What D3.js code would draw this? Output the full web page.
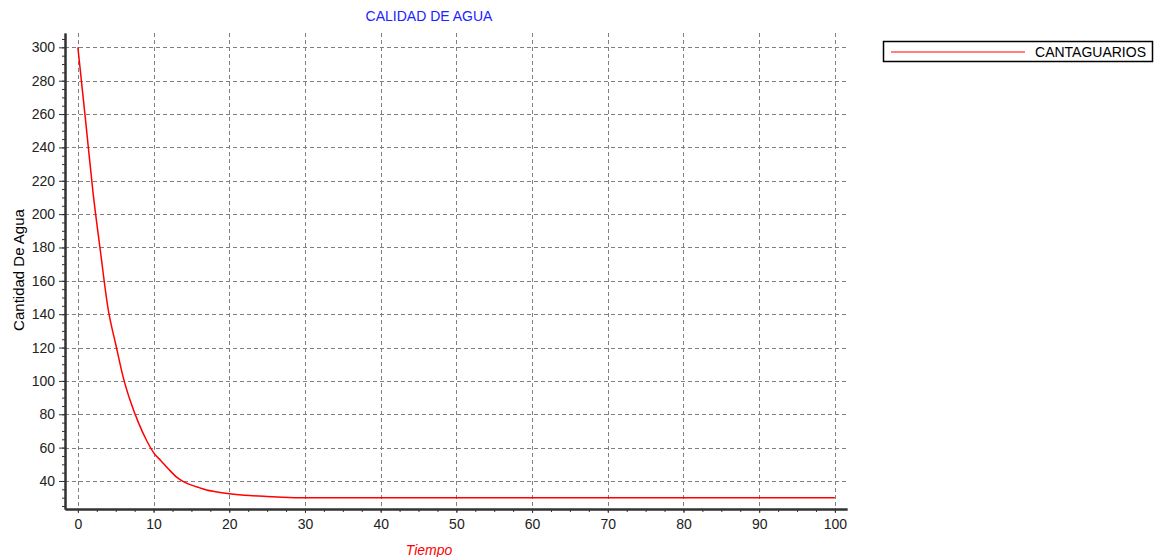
<!DOCTYPE html>
<html>
<head>
<meta charset="utf-8">
<script src="https://cdn.jsdelivr.net/npm/d3@7"></script>
<style>
  body { margin: 0; background: #fff; }
  text { font-family: "Liberation Sans", Arial, sans-serif; }
</style>
</head>
<body>
<div id="container"></div>
<script>
/* CONSTANTS AND GLOBALS */
const width = 1155;
const height = 557;
const margin = { top: 33, right: 308, bottom: 48, left: 65 };

/* DATA */
const tiempo =   [0,   1,   2,   3,   4,   5,   6,   7,  8,  9,  10, 11, 12, 13,   14,   15,   16, 17,   18,   19, 20,   22,   25,   27,   30, 100];
const cantidad = [300, 257, 213, 177, 143, 122, 102, 87, 75, 65, 57, 52, 47, 42.5, 39.5, 37.5, 36, 34.6, 33.7, 33, 32.4, 31.5, 30.7, 30.3, 30, 30];
const xTicks = [0, 10, 20, 30, 40, 50, 60, 70, 80, 90, 100];
const yTicks = [40, 60, 80, 100, 120, 140, 160, 180, 200, 220, 240, 260, 280, 300];
const seriesName = "CANTAGUARIOS";

const data = tiempo.map((t, i) => ({ t: t, v: cantidad[i] }));

/* SCALES */
const xScale = d3.scaleLinear()
  .domain([-1.7, 101.6])
  .range([margin.left, width - margin.right]);

const yScale = d3.scaleLinear()
  .domain([23.2, 308.6])
  .range([height - margin.bottom, margin.top]);

/* SVG ELEMENT */
const svg = d3.select("#container")
  .append("svg")
  .attr("width", width)
  .attr("height", height);

/* GRID */
const grid = svg.append("g")
  .attr("stroke", "#808080")
  .attr("stroke-width", 1)
  .attr("stroke-dasharray", "4,3");

grid.selectAll("line.v")
  .data(xTicks)
  .enter()
  .append("line")
  .attr("x1", d => Math.round(xScale(d)) + 0.5)
  .attr("x2", d => Math.round(xScale(d)) + 0.5)
  .attr("y1", margin.top)
  .attr("y2", height - margin.bottom);

grid.selectAll("line.h")
  .data(yTicks)
  .enter()
  .append("line")
  .attr("x1", margin.left)
  .attr("x2", width - margin.right)
  .attr("y1", d => Math.round(yScale(d)) + 0.5)
  .attr("y2", d => Math.round(yScale(d)) + 0.5);

/* AXES */
const xMinor = d3.range(0, 101, 2.5);
const yMinor = d3.range(25, 306, 5);

const styleAxis = g => {
  g.select(".domain").attr("stroke", "#333").attr("stroke-width", 2);
  g.selectAll(".tick line").attr("stroke", "#333");
  g.selectAll(".tick text")
    .attr("fill", "#222")
    .style("font-size", "14px")
    .style("font-family", "'Liberation Sans', Arial, sans-serif");
};

svg.append("g")
  .attr("transform", `translate(0, ${height - margin.bottom})`)
  .call(d3.axisBottom(xScale).tickValues(xMinor).tickSize(3).tickFormat("").tickSizeOuter(0))
  .call(styleAxis);

svg.append("g")
  .attr("transform", `translate(0, ${height - margin.bottom})`)
  .call(d3.axisBottom(xScale).tickValues(xTicks).tickSize(4).tickPadding(6).tickSizeOuter(0))
  .call(styleAxis);

svg.append("g")
  .attr("transform", `translate(${margin.left}, 0)`)
  .call(d3.axisLeft(yScale).tickValues(yMinor).tickSize(3).tickFormat("").tickSizeOuter(0))
  .call(styleAxis);

svg.append("g")
  .attr("transform", `translate(${margin.left}, 0)`)
  .call(d3.axisLeft(yScale).tickValues(yTicks).tickSize(6).tickPadding(4).tickSizeOuter(0))
  .call(styleAxis);

/* PLOT DATA */
const line = d3.line()
  .x(d => xScale(d.t))
  .y(d => yScale(d.v))
  .curve(d3.curveMonotoneX);

svg.append("path")
  .datum(data)
  .attr("fill", "none")
  .attr("stroke", "#ff0000")
  .attr("stroke-width", 1.5)
  .attr("d", line);

/* TITLE */
svg.append("text")
  .attr("x", 429)
  .attr("y", 21)
  .attr("text-anchor", "middle")
  .attr("fill", "#2222ff")
  .style("font-size", "14px")
  .text("CALIDAD DE AGUA");

/* AXIS LABELS */
svg.append("text")
  .attr("x", 429)
  .attr("y", 555)
  .attr("text-anchor", "middle")
  .attr("fill", "#ff0000")
  .style("font-size", "14px")
  .style("font-style", "italic")
  .text("Tiempo");

svg.append("text")
  .attr("transform", "rotate(-90)")
  .attr("x", -270)
  .attr("y", 24)
  .attr("text-anchor", "middle")
  .attr("fill", "#000")
  .style("font-size", "15px")
  .text("Cantidad De Agua");

/* LEGEND */
const legend = svg.append("g").attr("transform", "translate(883, 41)");
legend.append("rect")
  .attr("x", 0.5)
  .attr("y", 0.5)
  .attr("width", 269)
  .attr("height", 20)
  .attr("fill", "#fff")
  .attr("stroke", "#000")
  .attr("stroke-width", 1.5);
legend.append("line")
  .attr("x1", 8)
  .attr("x2", 142)
  .attr("y1", 11)
  .attr("y2", 11)
  .attr("stroke", "#ff0000")
  .attr("stroke-width", 1);
legend.append("text")
  .attr("x", 263)
  .attr("y", 16)
  .attr("text-anchor", "end")
  .attr("fill", "#000")
  .style("font-size", "14px")
  .text(seriesName);
</script>
</body>
</html>
